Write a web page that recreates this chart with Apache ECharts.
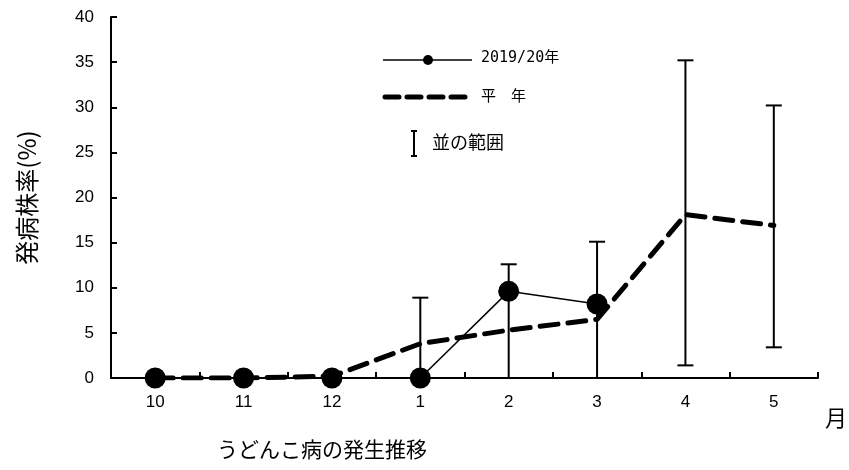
<!DOCTYPE html>
<html>
<head>
<meta charset="utf-8">
<script src="https://cdn.jsdelivr.net/npm/echarts@6/dist/echarts.min.js"></script>
<style>
  html, body { margin: 0; padding: 0; background: #fff; }
  #chart { width: 849px; height: 470px; }
</style>
</head>
<body>
<div id="chart"></div>
<script>
const months = ['10', '11', '12', '1', '2', '3', '4', '5'];
const thisSeason = [0, 0, 0, 0, 9.6, 8.2, null, null];
const normalYear = [0, 0, 0.2, 3.8, 5.3, 6.5, 18.1, 16.9];
const rangeLow = [null, null, null, 0, 0, 0, 1.4, 3.4];
const rangeHigh = [null, null, null, 8.9, 12.6, 15.1, 35.2, 30.2];

const jp = '"Noto Sans CJK JP", sans-serif';
const num = '"Liberation Sans", Arial, sans-serif';
const mono = '"DejaVu Sans Mono", "Noto Sans CJK JP", monospace';

const rangeData = [];
months.forEach((m, i) => {
  if (rangeLow[i] != null) rangeData.push([i, rangeLow[i], rangeHigh[i]]);
});

function renderRange(params, api) {
  const lo = api.coord([api.value(0), api.value(1)]);
  const hi = api.coord([api.value(0), api.value(2)]);
  const half = 8;
  const style = { stroke: '#000', lineWidth: 2 };
  return {
    type: 'group',
    children: [
      { type: 'line', shape: { x1: lo[0], y1: lo[1], x2: hi[0], y2: hi[1] }, style },
      { type: 'line', shape: { x1: hi[0] - half, y1: hi[1], x2: hi[0] + half, y2: hi[1] }, style },
      { type: 'line', shape: { x1: lo[0] - half, y1: lo[1], x2: lo[0] + half, y2: lo[1] }, style }
    ]
  };
}

const chart = echarts.init(document.getElementById('chart'));
chart.setOption({
  animation: false,
  backgroundColor: '#fff',
  grid: { left: 111, right: 31, top: 17, bottom: 92 },
  title: {
    text: 'うどんこ病の発生推移',
    left: 212,
    top: 434,
    textStyle: { fontFamily: jp, fontSize: 21, fontWeight: 'normal', color: '#000' }
  },
  xAxis: {
    type: 'category',
    data: months,
    boundaryGap: true,
    axisLine: { lineStyle: { color: '#000', width: 2 } },
    axisTick: { show: true, inside: true, length: 6, lineStyle: { color: '#000', width: 2 } },
    axisLabel: { color: '#000', fontFamily: num, fontSize: 17, margin: 16 },
    splitLine: { show: false }
  },
  yAxis: {
    type: 'value',
    min: 0,
    max: 40,
    interval: 5,
    name: '発病株率(%)',
    nameLocation: 'middle',
    nameGap: 72,
    nameRotate: 90,
    nameTextStyle: { fontFamily: jp, fontSize: 24, color: '#000' },
    axisLine: { show: true, lineStyle: { color: '#000', width: 2 } },
    axisTick: { show: true, inside: true, length: 6, lineStyle: { color: '#000', width: 2 } },
    axisLabel: { color: '#000', fontFamily: num, fontSize: 17, margin: 17 },
    splitLine: { show: false }
  },
  series: [
    {
      name: '並の範囲',
      type: 'custom',
      renderItem: renderRange,
      data: rangeData,
      z: 1
    },
    {
      name: '平年',
      type: 'line',
      data: normalYear,
      symbol: 'none',
      lineStyle: { color: '#000', width: 5, type: [18, 10], cap: 'round' },
      z: 2
    },
    {
      name: '2019/20年',
      type: 'line',
      data: thisSeason,
      symbol: 'circle',
      symbolSize: 21,
      itemStyle: { color: '#000' },
      lineStyle: { color: '#000', width: 1.5 },
      z: 3
    }
  ],
  graphic: [
    { type: 'line', shape: { x1: 383, y1: 60, x2: 472, y2: 60 }, style: { stroke: '#000', lineWidth: 1.5 } },
    { type: 'circle', shape: { cx: 428, cy: 60, r: 5 }, style: { fill: '#000' } },
    { type: 'text', left: 481, top: 51, style: { text: '2019/20年', font: '15px ' + mono, fill: '#000' } },
    { type: 'line', shape: { x1: 385, y1: 97, x2: 470, y2: 97 }, style: { stroke: '#000', lineWidth: 5, lineDash: [14, 8], lineCap: 'round' } },
    { type: 'text', left: 481, top: 88, style: { text: '平　年', font: '15px ' + jp, fill: '#000' } },
    { type: 'line', shape: { x1: 414, y1: 131, x2: 414, y2: 156 }, style: { stroke: '#000', lineWidth: 2 } },
    { type: 'line', shape: { x1: 411, y1: 131, x2: 417, y2: 131 }, style: { stroke: '#000', lineWidth: 2 } },
    { type: 'line', shape: { x1: 411, y1: 156, x2: 417, y2: 156 }, style: { stroke: '#000', lineWidth: 2 } },
    { type: 'text', left: 432, top: 133, style: { text: '並の範囲', font: '18px ' + jp, fill: '#000' } },
    { type: 'text', left: 825, top: 407, style: { text: '月', font: '22px ' + jp, fill: '#000' } }
  ]
});
</script>
</body>
</html>
